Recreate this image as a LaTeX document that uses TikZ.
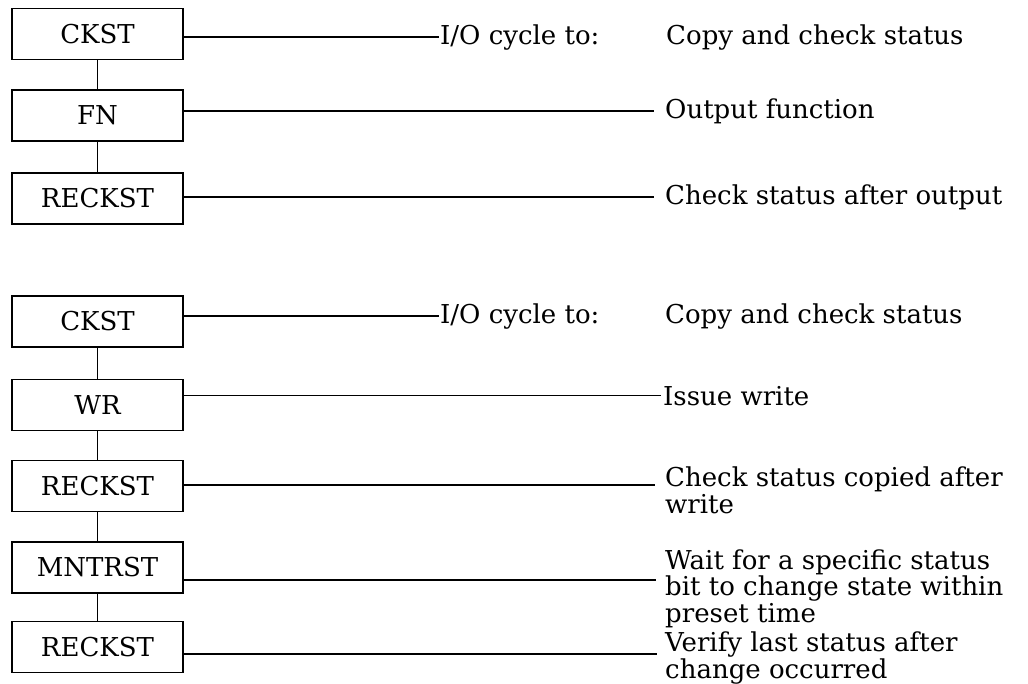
\documentclass[tikz,border=0pt]{standalone}
\usepackage{fontspec}
\setmainfont{DejaVu Serif}
\usetikzlibrary{positioning}

\tikzset{
  routine/.style={draw,line width=1.4pt,minimum width=171pt,minimum height=51pt,inner sep=0pt},
  note/.style={anchor=base west,inner sep=0pt,align=left},
  link/.style={line width=1.4pt},
}

\begin{document}
\begin{tikzpicture}[x=1pt,y=-1pt,every node/.style={font=\fontsize{26}{26.5}\selectfont}]
  \useasboundingbox (0,0) rectangle (1028,683);
  % output sequence
  \node[routine] (ckstA) at (97.5,34) {CKST};
  \node[routine] (fnA) at (97.5,115.5) {FN};
  \node[routine] (reckstA) at (97.5,198.5) {RECKST};
  \draw[link] (ckstA) -- (fnA) -- (reckstA);
  \node[note] (ioA) at (440,44) {I/O cycle to:};
  \node[note] (copyA) at (666,44) {Copy and check status};
  \node[note] (outA) at (665,118) {Output function};
  \node[note] (afterA) at (665,204) {Check status after output};
  \draw[link] (ckstA.east |- ioA.west) -- ([xshift=-1pt]ioA.west);
  \draw[link] (fnA.east |- outA.west) -- ([xshift=-11pt]outA.west);
  \draw[link] (reckstA.east |- afterA.west) -- ([xshift=-11pt]afterA.west);
  % write sequence
  \node[routine] (ckstB) at (97.5,321.5) {CKST};
  \node[routine] (wrB) at (97.5,405) {WR};
  \node[routine] (reckstB) at (97.5,486) {RECKST};
  \node[routine] (mntrstB) at (97.5,567.5) {MNTRST};
  \node[routine] (reckstC) at (97.5,647) {RECKST};
  \draw[link] (ckstB) -- (wrB) -- (reckstB) -- (mntrstB) -- (reckstC);
  \node[note] (ioB) at (440,323) {I/O cycle to:};
  \node[note] (copyB) at (665,323) {Copy and check status};
  \node[note] (issueB) at (663,405) {Issue write};
  % base of the last line
  \node[note] (copiedB) at (665,513) {Check status copied after\\write};
  \node[note] (waitB) at (665,622) {Wait for a specific status\\bit to change state within\\preset time};
  \node[note] (verifyC) at (665,678) {Verify last status after\\change occurred};
  \coordinate (endB) at (655,485);
  \coordinate (endM) at (656,580);
  \coordinate (endC) at (657,654);
  \draw[link] (ckstB.east |- ioB.west) -- ([xshift=-1pt]ioB.west);
  \draw[link] (wrB.east |- issueB.west) -- ([xshift=-2pt]issueB.west);
  \draw[link] (reckstB.east |- endB) -- (endB);
  \draw[link] (mntrstB.east |- endM) -- (endM);
  \draw[link] (reckstC.east |- endC) -- (endC);
\end{tikzpicture}
\end{document}
